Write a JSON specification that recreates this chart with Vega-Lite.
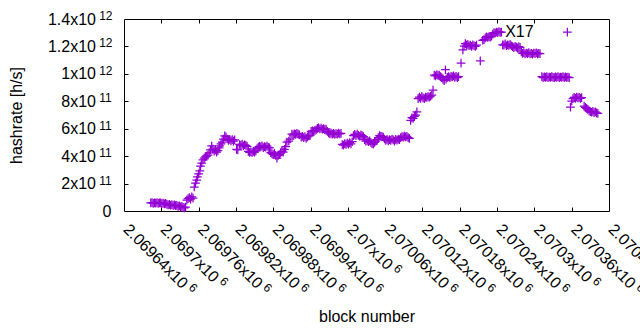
{
"$schema": "https://vega.github.io/schema/vega-lite/v6.json",
"width": 485, "height": 192,
"autosize": "none",
"padding": {"left": 124, "top": 19, "right": 31, "bottom": 119},
"background": "white",
"config": {"view": {"stroke": "black", "strokeWidth": 1}, "font": "Liberation Sans"},
"data": {"values": [
{"b":2069683,"h":5.9e10},{"b":2069685,"h":6.1e10},{"b":2069687,"h":5.6e10},{"b":2069689,"h":6.0e10},{"b":2069691,"h":5.7e10},{"b":2069693,"h":6.2e10},{"b":2069695,"h":5.5e10},{"b":2069697,"h":5.9e10},{"b":2069699,"h":6.0e10},{"b":2069701,"h":5.4e10},{"b":2069703,"h":5.8e10},{"b":2069705,"h":5.2e10},{"b":2069707,"h":5.6e10},
{"b":2069709,"h":4.9e10},{"b":2069711,"h":4.5e10},{"b":2069713,"h":4.8e10},{"b":2069715,"h":4.2e10},{"b":2069717,"h":4.6e10},{"b":2069719,"h":4.0e10},{"b":2069721,"h":4.4e10},{"b":2069723,"h":3.9e10},{"b":2069725,"h":4.1e10},
{"b":2069727,"h":3.4e10},{"b":2069729,"h":3.7e10},{"b":2069731,"h":3.0e10},{"b":2069733,"h":3.3e10},{"b":2069735,"h":2.6e10},{"b":2069737,"h":2.2e10},{"b":2069739,"h":2.9e10},
{"b":2069741,"h":8.0e10},{"b":2069743,"h":9.0e10},{"b":2069745,"h":9.8e10},{"b":2069747,"h":8.6e10},{"b":2069749,"h":1.03e11},{"b":2069751,"h":9.4e10},
{"b":2069753,"h":1.75e11},{"b":2069755,"h":2.04e11},{"b":2069757,"h":2.26e11},{"b":2069758,"h":2.48e11},{"b":2069760,"h":2.7e11},{"b":2069762,"h":2.92e11},{"b":2069763,"h":3.28e11},{"b":2069765,"h":3.5e11},{"b":2069767,"h":3.72e11},{"b":2069769,"h":3.86e11},{"b":2069771,"h":3.94e11},{"b":2069773,"h":4.0e11},{"b":2069775,"h":4.08e11},{"b":2069777,"h":4.23e11},{"b":2069779,"h":4.45e11},{"b":2069781,"h":4.74e11},{"b":2069783,"h":4.52e11},{"b":2069785,"h":4.37e11},{"b":2069787,"h":4.45e11},{"b":2069789,"h":4.30e11},{"b":2069791,"h":4.40e11},{"b":2069793,"h":4.6e11},{"b":2069794,"h":4.74e11},{"b":2069796,"h":4.89e11},{"b":2069798,"h":5.03e11},{"b":2069800,"h":5.25e11},{"b":2069802,"h":5.47e11},{"b":2069804,"h":5.4e11},{"b":2069806,"h":5.25e11},{"b":2069808,"h":5.15e11},{"b":2069810,"h":5.22e11},{"b":2069812,"h":5.12e11},{"b":2069814,"h":5.2e11},{"b":2069816,"h":5.1e11},{"b":2069818,"h":5.18e11},
{"b":2069821,"h":4.5e11},{"b":2069823,"h":4.45e11},{"b":2069826,"h":4.85e11},{"b":2069828,"h":4.78e11},{"b":2069830,"h":4.88e11},{"b":2069832,"h":4.75e11},{"b":2069834,"h":4.83e11},{"b":2069836,"h":4.78e11},{"b":2069838,"h":4.72e11},{"b":2069840,"h":4.35e11},{"b":2069842,"h":4.28e11},{"b":2069844,"h":4.32e11},{"b":2069846,"h":4.25e11},{"b":2069848,"h":4.35e11},{"b":2069850,"h":4.3e11},{"b":2069852,"h":4.38e11},{"b":2069854,"h":4.55e11},{"b":2069856,"h":4.65e11},{"b":2069858,"h":4.72e11},{"b":2069860,"h":4.68e11},{"b":2069862,"h":4.75e11},{"b":2069864,"h":4.62e11},{"b":2069866,"h":4.7e11},{"b":2069868,"h":4.66e11},{"b":2069870,"h":4.74e11},{"b":2069872,"h":4.64e11},{"b":2069874,"h":4.6e11},{"b":2069876,"h":4.25e11},{"b":2069878,"h":4.18e11},{"b":2069880,"h":4.12e11},{"b":2069882,"h":4.2e11},{"b":2069884,"h":4.05e11},{"b":2069886,"h":3.86e11},{"b":2069888,"h":4.05e11},{"b":2069890,"h":4.12e11},{"b":2069892,"h":4.25e11},{"b":2069894,"h":4.35e11},{"b":2069896,"h":4.3e11},{"b":2069898,"h":4.5e11},{"b":2069900,"h":4.7e11},{"b":2069902,"h":5.03e11},{"b":2069905,"h":5.1e11},{"b":2069907,"h":5.25e11},{"b":2069910,"h":5.6e11},{"b":2069912,"h":5.55e11},{"b":2069914,"h":5.63e11},{"b":2069916,"h":5.58e11},{"b":2069918,"h":5.66e11},{"b":2069920,"h":5.6e11},{"b":2069922,"h":5.55e11},{"b":2069925,"h":5.38e11},{"b":2069927,"h":5.45e11},{"b":2069929,"h":5.35e11},{"b":2069931,"h":5.42e11},{"b":2069933,"h":5.3e11},{"b":2069935,"h":5.4e11},{"b":2069937,"h":5.48e11},{"b":2069939,"h":5.5e11},{"b":2069941,"h":5.8e11},{"b":2069943,"h":5.85e11},{"b":2069945,"h":5.78e11},{"b":2069947,"h":5.88e11},{"b":2069949,"h":5.92e11},{"b":2069951,"h":6.02e11},{"b":2069953,"h":6.06e11},{"b":2069955,"h":5.98e11},{"b":2069957,"h":6.04e11},{"b":2069959,"h":5.96e11},{"b":2069961,"h":6.0e11},{"b":2069963,"h":5.94e11},{"b":2069965,"h":5.98e11},{"b":2069967,"h":5.8e11},{"b":2069969,"h":5.7e11},{"b":2069971,"h":5.62e11},{"b":2069973,"h":5.68e11},{"b":2069975,"h":5.6e11},{"b":2069977,"h":5.66e11},{"b":2069979,"h":5.58e11},{"b":2069981,"h":5.64e11},{"b":2069983,"h":5.6e11},{"b":2069985,"h":5.68e11},{"b":2069987,"h":5.62e11},{"b":2069989,"h":5.66e11},
{"b":2069991,"h":4.85e11},{"b":2069993,"h":4.8e11},{"b":2069995,"h":4.92e11},{"b":2069997,"h":4.85e11},{"b":2069999,"h":4.95e11},{"b":2070001,"h":4.88e11},{"b":2070003,"h":4.98e11},{"b":2070005,"h":4.9e11},{"b":2070007,"h":5.05e11},{"b":2070009,"h":5.5e11},{"b":2070011,"h":5.58e11},{"b":2070013,"h":5.5e11},{"b":2070015,"h":5.6e11},{"b":2070017,"h":5.52e11},{"b":2070019,"h":5.45e11},{"b":2070021,"h":5.56e11},{"b":2070023,"h":5.5e11},{"b":2070025,"h":5.42e11},{"b":2070027,"h":5.2e11},{"b":2070029,"h":5.1e11},{"b":2070031,"h":5.15e11},{"b":2070033,"h":5.05e11},{"b":2070035,"h":5.12e11},{"b":2070037,"h":5.0e11},{"b":2070039,"h":4.92e11},{"b":2070041,"h":4.88e11},{"b":2070043,"h":5.0e11},{"b":2070045,"h":5.1e11},{"b":2070047,"h":5.2e11},{"b":2070049,"h":5.35e11},{"b":2070051,"h":5.5e11},{"b":2070053,"h":5.45e11},{"b":2070055,"h":5.42e11},{"b":2070057,"h":5.38e11},{"b":2070059,"h":5.25e11},{"b":2070061,"h":5.15e11},{"b":2070063,"h":5.22e11},{"b":2070065,"h":5.12e11},{"b":2070067,"h":5.2e11},{"b":2070069,"h":5.15e11},{"b":2070071,"h":5.25e11},{"b":2070073,"h":5.18e11},{"b":2070075,"h":5.1e11},{"b":2070077,"h":5.22e11},{"b":2070079,"h":5.16e11},{"b":2070081,"h":5.24e11},{"b":2070083,"h":5.2e11},{"b":2070085,"h":5.35e11},{"b":2070087,"h":5.42e11},{"b":2070089,"h":5.38e11},{"b":2070091,"h":5.46e11},{"b":2070093,"h":5.4e11},{"b":2070095,"h":5.44e11},{"b":2070097,"h":5.35e11},{"b":2070099,"h":5.3e11},
{"b":2070101,"h":6.6e11},{"b":2070103,"h":6.8e11},{"b":2070105,"h":6.75e11},{"b":2070107,"h":6.9e11},{"b":2070109,"h":7.0e11},{"b":2070111,"h":7.22e11},{"b":2070113,"h":8.2e11},{"b":2070115,"h":8.3e11},{"b":2070117,"h":8.22e11},{"b":2070119,"h":8.36e11},{"b":2070121,"h":8.25e11},{"b":2070123,"h":8.2e11},{"b":2070125,"h":8.3e11},{"b":2070127,"h":8.28e11},{"b":2070129,"h":8.35e11},{"b":2070131,"h":8.3e11},{"b":2070133,"h":8.38e11},{"b":2070135,"h":8.45e11},{"b":2070137,"h":8.82e11},
{"b":2070139,"h":9.9e11},{"b":2070141,"h":9.85e11},{"b":2070143,"h":9.95e11},{"b":2070145,"h":9.88e11},{"b":2070147,"h":9.9e11},{"b":2070149,"h":9.8e11},{"b":2070151,"h":9.72e11},{"b":2070153,"h":9.6e11},{"b":2070155,"h":9.5e11},{"b":2070157,"h":1.03e12},{"b":2070158,"h":9.62e11},{"b":2070160,"h":9.75e11},{"b":2070162,"h":9.8e11},{"b":2070164,"h":9.72e11},{"b":2070166,"h":9.82e11},{"b":2070168,"h":9.78e11},{"b":2070170,"h":9.85e11},{"b":2070172,"h":9.75e11},{"b":2070174,"h":9.82e11},{"b":2070176,"h":9.72e11},{"b":2070178,"h":9.8e11},
{"b":2070182,"h":1.079e12},{"b":2070185,"h":1.174e12},{"b":2070187,"h":1.203e12},{"b":2070189,"h":1.22e12},{"b":2070191,"h":1.21e12},{"b":2070193,"h":1.215e12},{"b":2070195,"h":1.205e12},{"b":2070197,"h":1.21e12},{"b":2070199,"h":1.2e12},{"b":2070201,"h":1.212e12},{"b":2070203,"h":1.205e12},{"b":2070205,"h":1.2e12},{"b":2070207,"h":1.21e12},{"b":2070213,"h":1.094e12},
{"b":2070217,"h":1.245e12},{"b":2070219,"h":1.25e12},{"b":2070221,"h":1.262e12},{"b":2070223,"h":1.27e12},{"b":2070225,"h":1.265e12},{"b":2070227,"h":1.272e12},{"b":2070229,"h":1.268e12},{"b":2070231,"h":1.275e12},{"b":2070233,"h":1.29e12},{"b":2070235,"h":1.3e12},{"b":2070237,"h":1.298e12},{"b":2070239,"h":1.305e12},{"b":2070241,"h":1.3e12},{"b":2070243,"h":1.308e12},{"b":2070245,"h":1.302e12},{"b":2070247,"h":1.305e12},
{"b":2070249,"h":1.212e12},{"b":2070251,"h":1.21e12},{"b":2070253,"h":1.218e12},{"b":2070255,"h":1.205e12},{"b":2070257,"h":1.212e12},{"b":2070259,"h":1.208e12},{"b":2070261,"h":1.215e12},{"b":2070263,"h":1.205e12},{"b":2070265,"h":1.198e12},{"b":2070267,"h":1.192e12},{"b":2070269,"h":1.2e12},{"b":2070271,"h":1.195e12},{"b":2070273,"h":1.19e12},{"b":2070275,"h":1.198e12},{"b":2070277,"h":1.194e12},
{"b":2070279,"h":1.16e12},{"b":2070281,"h":1.15e12},{"b":2070283,"h":1.155e12},{"b":2070285,"h":1.145e12},{"b":2070287,"h":1.152e12},{"b":2070289,"h":1.148e12},{"b":2070291,"h":1.155e12},{"b":2070293,"h":1.146e12},{"b":2070295,"h":1.15e12},{"b":2070297,"h":1.144e12},{"b":2070299,"h":1.152e12},{"b":2070301,"h":1.148e12},{"b":2070303,"h":1.154e12},{"b":2070305,"h":1.146e12},{"b":2070307,"h":1.15e12},{"b":2070309,"h":1.148e12},
{"b":2070312,"h":9.8e11},{"b":2070314,"h":9.72e11},{"b":2070316,"h":9.78e11},{"b":2070318,"h":9.74e11},{"b":2070320,"h":9.8e11},{"b":2070322,"h":9.72e11},{"b":2070324,"h":9.77e11},{"b":2070326,"h":9.74e11},{"b":2070328,"h":9.8e11},{"b":2070330,"h":9.75e11},{"b":2070332,"h":9.72e11},{"b":2070334,"h":9.78e11},{"b":2070336,"h":9.74e11},{"b":2070338,"h":9.8e11},{"b":2070340,"h":9.72e11},{"b":2070342,"h":9.77e11},{"b":2070344,"h":9.75e11},{"b":2070346,"h":9.8e11},{"b":2070348,"h":9.72e11},{"b":2070350,"h":9.78e11},{"b":2070352,"h":9.74e11},{"b":2070353,"h":1.305e12},{"b":2070354,"h":9.76e11},{"b":2070356,"h":9.72e11},
{"b":2070358,"h":7.58e11},{"b":2070360,"h":8.02e11},{"b":2070362,"h":8.2e11},{"b":2070364,"h":8.28e11},{"b":2070366,"h":8.22e11},{"b":2070368,"h":8.3e11},{"b":2070370,"h":8.25e11},{"b":2070372,"h":8.28e11},{"b":2070374,"h":8.22e11},{"b":2070376,"h":8.26e11},
{"b":2070380,"h":7.65e11},{"b":2070382,"h":7.55e11},{"b":2070384,"h":7.48e11},{"b":2070386,"h":7.4e11},{"b":2070388,"h":7.3e11},{"b":2070390,"h":7.25e11},{"b":2070392,"h":7.2e11},{"b":2070394,"h":7.26e11},{"b":2070396,"h":7.18e11},{"b":2070398,"h":7.22e11},{"b":2070400,"h":7.15e11},{"b":2070402,"h":7.12e11}
]},
"layer": [
{
"mark": {"type": "point", "shape": "M-1,0H1M0,-1V1", "filled": false, "color": "#9400d3", "strokeWidth": 1.25, "size": 76, "opacity": 1},
"encoding": {
"x": {"field": "b", "type": "quantitative", "scale": {"domain": [2069640, 2070420], "nice": false, "zero": false},
 "axis": {"orient": "bottom", "values": [2069640,2069700,2069760,2069820,2069880,2069940,2070000,2070060,2070120,2070180,2070240,2070300,2070360,2070420],
  "grid": false, "domain": false, "ticks": false,
  "labelExpr": "format(datum.value/1000000,'.6~g')+'x10'",
  "labelAngle": 45, "labelAlign": "left", "labelBaseline": "alphabetic", "labelOffset": -2, "labelPadding": 19,
  "labelFont": "Liberation Sans", "labelFontSize": 16, "labelColor": "black", "labelOverlap": false, "labelFlush": false, "labelBound": false,
  "title": "block number", "titleFont": "Liberation Sans", "titleFontSize": 16, "titleFontWeight": "normal", "titleColor": "black",
  "titleX": 242.5, "titleY": 105, "titleAlign": "center", "titleBaseline": "middle"}},
"y": {"field": "h", "type": "quantitative", "scale": {"domain": [0, 1400000000000], "nice": false, "zero": false},
 "axis": {"orient": "left", "values": [0,200000000000,400000000000,600000000000,800000000000,1000000000000,1200000000000,1400000000000],
  "grid": false, "domain": false, "ticks": false,
  "labelExpr": "datum.value==0 ? '0' : format(datum.value>=1e12 ? datum.value/1e12 : datum.value/1e11, '.3~g')+'x10'",
  "labelAlign": "right", "labelBaseline": "middle",
  "labelPadding": {"condition": {"test": "datum.value==0", "value": 13}, "value": 28.5},
  "labelFont": "Liberation Sans", "labelFontSize": 16, "labelColor": "black", "labelOverlap": false, "labelFlush": false, "labelBound": false,
  "title": "hashrate [h/s]", "titleFont": "Liberation Sans", "titleFontSize": 16, "titleFontWeight": "normal", "titleColor": "black",
  "titleX": -107.5, "titleY": 96, "titleAngle": 270, "titleAlign": "center", "titleBaseline": "middle"}}
}
},
{
"data": {"values": [{"b": 2070253, "h": 1307500000000, "label": "X17"}]},
"mark": {"type": "text", "align": "left", "baseline": "middle", "font": "Liberation Sans", "fontSize": 16, "color": "black"},
"encoding": {
"x": {"field": "b", "type": "quantitative", "scale": {"domain": [2069640, 2070420], "nice": false, "zero": false},
 "axis": {"orient": "bottom", "values": [2069640,2069700,2069760,2069820,2069880,2069940,2070000,2070060,2070120,2070180,2070240,2070300,2070360,2070420],
  "grid": false, "domain": false, "ticks": false, "title": null,
  "labelExpr": "'6'", "labelAngle": 45, "labelAlign": "left", "labelBaseline": "alphabetic",
  "labelOffset": {"condition": [{"test": "datum.value==2070000", "value": 44.6}, {"test": "datum.value==2069700 || datum.value==2070300", "value": 57.2}], "value": 63.5},
  "labelPadding": {"condition": [{"test": "datum.value==2070000", "value": 57.8}, {"test": "datum.value==2069700 || datum.value==2070300", "value": 70.4}], "value": 76.7},
  "labelFont": "Liberation Sans", "labelFontSize": 12, "labelColor": "black", "labelOverlap": false, "labelFlush": false, "labelBound": false}},
"y": {"field": "h", "type": "quantitative", "scale": {"domain": [0, 1400000000000], "nice": false, "zero": false},
 "axis": {"orient": "left", "values": [200000000000,400000000000,600000000000,800000000000,1000000000000,1200000000000,1400000000000],
  "grid": false, "domain": false, "ticks": false, "title": null,
  "labelExpr": "datum.value>=1e12 ? '12' : '11'", "labelAlign": "left", "labelBaseline": "alphabetic", "labelPadding": 25.3, "labelOffset": 0.5,
  "labelFont": "Liberation Sans", "labelFontSize": 12, "labelColor": "black", "labelOverlap": false, "labelFlush": false, "labelBound": false}},
"text": {"field": "label"}
}
},
{
"mark": {"type": "point", "opacity": 0},
"encoding": {
"x": {"field": "b", "type": "quantitative", "scale": {"domain": [2069640, 2070420], "nice": false, "zero": false},
 "axis": {"orient": "bottom", "values": [2069700,2069760,2069820,2069880,2069940,2070000,2070060,2070120,2070180,2070240,2070300,2070360],
  "grid": false, "domain": false, "labels": false, "ticks": true, "tickSize": -4, "tickColor": "black", "tickWidth": 1, "title": null}},
"y": {"field": "h", "type": "quantitative", "scale": {"domain": [0, 1400000000000], "nice": false, "zero": false},
 "axis": {"orient": "left", "values": [200000000000,400000000000,600000000000,800000000000,1000000000000,1200000000000],
  "grid": false, "domain": false, "labels": false, "ticks": true, "tickSize": -4, "tickColor": "black", "tickWidth": 1, "title": null}}
}
},
{
"mark": {"type": "point", "opacity": 0},
"encoding": {
"x": {"field": "b", "type": "quantitative", "scale": {"domain": [2069640, 2070420], "nice": false, "zero": false},
 "axis": {"orient": "top", "values": [2069700,2069760,2069820,2069880,2069940,2070000,2070060,2070120,2070180,2070240,2070300,2070360],
  "grid": false, "domain": false, "labels": false, "ticks": true, "tickSize": -4, "tickColor": "black", "tickWidth": 1, "title": null}},
"y": {"field": "h", "type": "quantitative", "scale": {"domain": [0, 1400000000000], "nice": false, "zero": false},
 "axis": {"orient": "right", "values": [200000000000,400000000000,600000000000,800000000000,1000000000000,1200000000000],
  "grid": false, "domain": false, "labels": false, "ticks": true, "tickSize": -4, "tickColor": "black", "tickWidth": 1, "title": null}}
}
}
],
"resolve": {"axis": {"x": "independent", "y": "independent"}}
}
